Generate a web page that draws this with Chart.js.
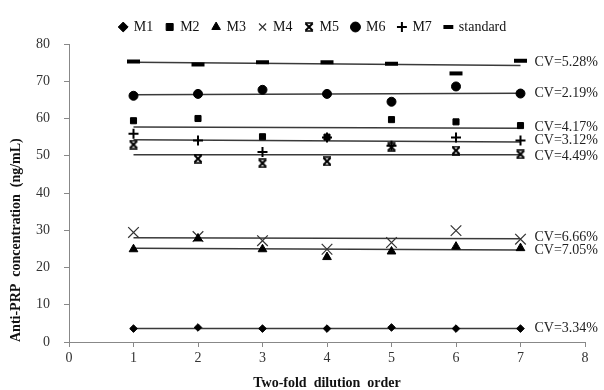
<!DOCTYPE html>
<html>
<head>
<meta charset="utf-8">
<script src="https://cdn.jsdelivr.net/npm/chart.js"></script>
<style>
    body { margin: 0; background: #fff; }
</style>
</head>
<body>
<canvas id="chart" width="604" height="390"></canvas>
<script>
let dilutionOrder = [1, 2, 3, 4, 5, 6, 7]

let m1 = [3.6, 3.9, 3.6, 3.6, 3.9, 3.6, 3.6]
let m2 = [59.4, 60.0, 55.1, 55.0, 59.7, 59.1, 58.1]
let m3 = [24.9, 27.8, 24.9, 22.8, 24.3, 25.6, 25.2]
let m4 = [29.4, 28.3, 27.2, 24.9, 26.7, 29.9, 27.6]
let m5 = [53.0, 49.2, 48.0, 48.5, 52.3, 51.4, 50.4]
let m6 = [66.1, 66.6, 67.7, 66.6, 64.5, 68.6, 66.7]
let m7 = [55.9, 54.1, 51.0, 54.9, 52.7, 54.9, 54.1]
let standard = [75.3, 74.5, 75.1, 75.1, 74.7, 72.1, 75.5]

// fitted line ends, read at order 1 and order 7
let fitEnds = [1, 7]
let m1Fit = [3.6, 3.6]
let m2Fit = [57.7, 57.4]
let m3Fit = [25.2, 24.7]
let m4Fit = [28.0, 27.7]
let m5Fit = [50.3, 50.3]
let m6Fit = [66.4, 66.8]
let m7Fit = [54.3, 53.7]
let standardFit = [75.1, 74.2]

let cvText = ["CV=5.28%", "CV=2.19%", "CV=4.17%", "CV=3.12%", "CV=4.49%", "CV=6.66%", "CV=7.05%", "CV=3.34%"]
let cvY = [75.1, 66.7, 57.7, 54.2, 49.8, 28.0, 24.5, 3.6]

let xTicks = [0, 1, 2, 3, 4, 5, 6, 7, 8]
let yTicks = [0, 10, 20, 30, 40, 50, 60, 70, 80]

const serif = "'Liberation Serif', 'Times New Roman', serif"

function starMark() {
    let c = document.createElement("canvas")
    c.width = 10
    c.height = 10
    let g = c.getContext("2d")
    g.strokeStyle = "#000"
    g.lineWidth = 2
    g.beginPath()
    g.moveTo(1.5, 1.5); g.lineTo(8.5, 8.5)
    g.moveTo(8.5, 1.5); g.lineTo(1.5, 8.5)
    g.stroke()
    g.lineWidth = 1.5
    g.beginPath()
    g.moveTo(1, 1); g.lineTo(9, 1)
    g.moveTo(1, 9); g.lineTo(9, 9)
    g.stroke()
    return c
}

function toPoints(xs, ys) {
    return ys.map((v, i) => ({x: xs[i], y: v}))
}

function markers(label, values, style, radius, extra = {}) {
    return Object.assign({
        label: label,
        data: toPoints(dilutionOrder, values),
        showLine: false,
        pointStyle: style,
        pointRadius: radius,
        pointHoverRadius: radius,
        pointBackgroundColor: "#000",
        pointBorderColor: "#000",
        pointBorderWidth: 1,
    }, extra)
}

function fitLine(values) {
    return {
        label: "fit",
        data: toPoints(fitEnds, values),
        showLine: true,
        borderColor: "#3a3a3a",
        borderWidth: 1.5,
        pointRadius: 0,
        pointHoverRadius: 0,
    }
}

const cvLabels = {
    id: "cvLabels",
    afterDatasetsDraw(chart) {
        let {ctx, scales: {x, y}} = chart
        ctx.save()
        ctx.font = `14px ${serif}`
        ctx.fillStyle = "#222"
        ctx.textBaseline = "middle"
        let left = x.getPixelForValue(dilutionOrder[dilutionOrder.length - 1]) + 14
        cvText.forEach((t, i) => ctx.fillText(t, left, y.getPixelForValue(cvY[i])))
        ctx.restore()
    }
}

const data = {
    datasets: [
        markers("M1", m1, "rectRot", 3.8),
        markers("M2", m2, "rect", 4.3),
        markers("M3", m3, "triangle", 5),
        markers("M4", m4, "crossRot", 7.5, {pointBorderColor: "#333", pointBorderWidth: 1.2}),
        markers("M5", m5, starMark(), 5),
        markers("M6", m6, "circle", 4.5),
        markers("M7", m7, "cross", 5, {pointBorderWidth: 2}),
        markers("standard", standard, "line", 6.5, {pointBorderWidth: 4}),
        fitLine(m1Fit), fitLine(m2Fit), fitLine(m3Fit), fitLine(m4Fit),
        fitLine(m5Fit), fitLine(m6Fit), fitLine(m7Fit), fitLine(standardFit),
    ]
}

const config = {
    type: "scatter",
    data: data,
    options: {
        responsive: false,
        animation: false,
        layout: {padding: {top: -5, left: 22, right: 0, bottom: 0}},
        plugins: {
            tooltip: {enabled: false},
            legend: {
                display: true,
                position: "top",
                labels: {
                    usePointStyle: true,
                    boxWidth: 7,
                    boxHeight: 7,
                    padding: 13,
                    color: "#111",
                    font: {family: serif, size: 14},
                    filter: (item) => item.text !== "fit",
                },
            },
        },
        scales: {
            x: {
                type: "linear",
                min: 0,
                max: 8,
                afterBuildTicks: (s) => { s.ticks = xTicks.map(v => ({value: v})) },
                afterFit: (s) => { s.height = 48 },
                grid: {drawOnChartArea: false, drawTicks: true, tickLength: 5, color: "#888"},
                border: {color: "#888", width: 1},
                ticks: {color: "#333", padding: 3, font: {family: serif, size: 14}},
                title: {
                    display: true,
                    text: "Two-fold  dilution  order",
                    color: "#111",
                    padding: {top: 0, bottom: 0},
                    font: {family: serif, size: 14, weight: "bold", lineHeight: 1},
                },
            },
            y: {
                type: "linear",
                min: 0,
                max: 80,
                afterBuildTicks: (s) => { s.ticks = yTicks.map(v => ({value: v})) },
                afterFit: (s) => { s.width = 47; s.paddingTop = 44 },
                grid: {drawOnChartArea: false, drawTicks: true, tickLength: 5, color: "#888"},
                border: {color: "#888", width: 1},
                ticks: {color: "#333", padding: 14, font: {family: serif, size: 14}},
                title: {
                    display: true,
                    text: "Anti-PRP  concentration  (ng/mL)",
                    color: "#111",
                    align: "start",
                    padding: {top: -14, bottom: 0},
                    font: {family: serif, size: 14, weight: "bold", lineHeight: 1.2},
                },
            },
            yRight: {
                type: "linear",
                position: "right",
                display: true,
                afterFit: (s) => { s.width = 19 },
                grid: {display: false},
                border: {display: false},
                ticks: {display: false},
            },
        },
    },
    plugins: [cvLabels],
}

const ctx = document.getElementById("chart").getContext("2d")
const myChart = new Chart(ctx, config)
</script>
</body>
</html>
